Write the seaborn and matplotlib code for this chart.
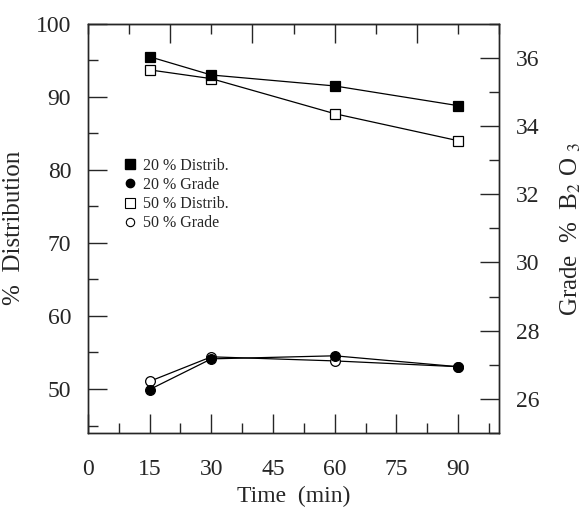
import numpy as np
import pandas as pd
import matplotlib.pyplot as plt
import seaborn as sns
from matplotlib.lines import Line2D
from matplotlib.ticker import MultipleLocator

# Data
times = [15, 30, 60, 90]
distrib_20 = [95.5, 93.0, 91.5, 88.8]
distrib_50 = [93.7, 92.5, 87.7, 84.0]
grade_20 = [26.27, 27.17, 27.26, 26.94]
grade_50 = [26.51, 27.23, 27.11, 26.94]

sns.set_style("ticks")
plt.rcParams["font.family"] = ["Liberation Serif", "DejaVu Serif"]
plt.rcParams["mathtext.fontset"] = "stix"

fig = plt.figure(figsize=(5.86, 5.08), dpi=100)
ax = fig.add_axes([0.150, 0.148, 0.702, 0.805])
ax2 = ax.twinx()

line_kw = dict(color="black", linewidth=0.9, markersize=7, markeredgecolor="black",
               markeredgewidth=0.9)

# open markers first so the filled ones sit on top, as in the original
sns.lineplot(x=times, y=distrib_50, ax=ax, marker="s", markerfacecolor="white", **line_kw)
sns.lineplot(x=times, y=distrib_20, ax=ax, marker="s", markerfacecolor="black", **line_kw)
sns.lineplot(x=times, y=grade_50, ax=ax2, marker="o", markerfacecolor="white", **line_kw)
sns.lineplot(x=times, y=grade_20, ax=ax2, marker="o", markerfacecolor="black", **line_kw)

ax.set_xlim(0, 100)
ax.set_ylim(44, 100)
ax2.set_ylim(25, 37)

ax.set_xticks([0, 15, 30, 45, 60, 75, 90])
ax.xaxis.set_minor_locator(MultipleLocator(7.5))
ax.set_yticks([50, 60, 70, 80, 90, 100])
ax.yaxis.set_minor_locator(MultipleLocator(5))
ax2.set_yticks([26, 28, 30, 32, 34, 36])
ax2.yaxis.set_minor_locator(MultipleLocator(1))

for a in (ax, ax2):
    a.tick_params(which="major", direction="in", length=14, width=1.0, labelsize=17, pad=12)
    a.tick_params(which="minor", direction="in", length=7, width=1.0)
    for s in a.spines.values():
        s.set_linewidth(1.0)
        s.set_visible(True)
ax.tick_params(axis="y", which="both", right=False)
ax.tick_params(axis="x", which="major", pad=19)

top = ax.secondary_xaxis("top")
top.set_xticks([20, 40, 60, 80])
top.xaxis.set_minor_locator(MultipleLocator(10))
top.tick_params(which="major", direction="in", length=14, width=1.0, labeltop=False)
top.tick_params(which="minor", direction="in", length=7, width=1.0)

ax.set_xlabel("Time  (min)", fontsize=17, labelpad=4)
ax.set_ylabel("%  Distribution", fontsize=18, labelpad=8)
ax2.set_ylabel("Grade  %  B$_{2}$ O $_{3}$", fontsize=18, labelpad=14)

handles = [
    Line2D([], [], linestyle="none", marker="s", markersize=7, color="black",
           markerfacecolor="black"),
    Line2D([], [], linestyle="none", marker="o", markersize=6, color="black",
           markerfacecolor="black"),
    Line2D([], [], linestyle="none", marker="s", markersize=7, color="black",
           markerfacecolor="white", markeredgewidth=0.8),
    Line2D([], [], linestyle="none", marker="o", markersize=6, color="black",
           markerfacecolor="white", markeredgewidth=0.8),
]
labels = ["20 % Distrib.", "20 % Grade", "50 % Distrib.", "50 % Grade"]
ax2.legend(handles, labels, loc="upper left", bbox_to_anchor=(0.06, 0.70),
           frameon=False, fontsize=11.5, handlelength=0.8, handletextpad=0.4,
           labelspacing=0.2, borderpad=0.2)

fig.savefig("out.png", dpi=100)
plt.close(fig)
